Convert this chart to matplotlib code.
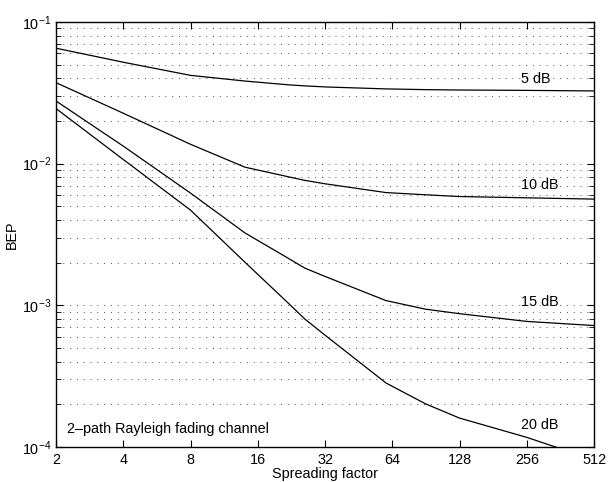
import matplotlib.pyplot as plt
from matplotlib.ticker import FixedLocator, FixedFormatter, NullLocator, LogLocator, LogFormatterMathtext

plt.rcParams["font.family"] = ["Liberation Sans", "DejaVu Sans"]
plt.rcParams["mathtext.fontset"] = "custom"
plt.rcParams["mathtext.rm"] = "Liberation Sans"
plt.rcParams["mathtext.it"] = "Liberation Sans:italic"
plt.rcParams["mathtext.bf"] = "Liberation Sans:bold"

# spreading factor grid shared by all curves
SF = [2, 4, 8, 14, 22, 26, 32, 60, 90, 128, 256, 512]

BEP_5DB = [0.0653, 0.052, 0.042, 0.0383, 0.036, 0.0354, 0.0348, 0.0337, 0.0333, 0.0331, 0.0329, 0.0326]
BEP_10DB = [0.0373, 0.0227, 0.0137, 0.00945, 0.00807, 0.00762, 0.00721, 0.00625, 0.00603, 0.00586, 0.00574, 0.00562]
BEP_15DB = [0.0277, 0.0133, 0.0062, 0.00325, 0.00214, 0.00183, 0.0016, 0.00108, 0.00094, 0.000873, 0.00077, 0.00072]
BEP_20DB = [0.0245, 0.0107, 0.0047, 0.00202, 0.00103, 0.0008, 0.000616, 0.000283, 0.000202, 0.00016, 0.000117, 0.000081]

CURVES = [
    (BEP_5DB, "5 dB", 0.0396),
    (BEP_10DB, "10 dB", 0.0071),
    (BEP_15DB, "15 dB", 0.00106),
    (BEP_20DB, "20 dB", 0.000142),
]

XTICKS = [2, 4, 8, 16, 32, 64, 128, 256, 512]
FS = 10.4


def main() -> None:
    fig = plt.figure(figsize=(6.08, 4.82), dpi=100)
    ax = fig.add_axes([0.0921, 0.0726, 0.8849, 0.8818])

    for bep, label, ylab in CURVES:
        ax.plot(SF, bep, color="black", linewidth=0.9)
        ax.text(242, ylab, label, fontsize=FS, ha="left", va="center")

    ax.set_xscale("log", base=2)
    ax.set_yscale("log")
    ax.set_xlim(2, 512)
    ax.set_ylim(1e-4, 1e-1)

    ax.xaxis.set_major_locator(FixedLocator(XTICKS))
    ax.xaxis.set_major_formatter(FixedFormatter([str(t) for t in XTICKS]))
    ax.xaxis.set_minor_locator(NullLocator())
    ax.yaxis.set_major_locator(LogLocator(base=10, numticks=10))
    ax.yaxis.set_major_formatter(LogFormatterMathtext())
    ax.yaxis.set_minor_locator(LogLocator(base=10, subs=range(2, 10), numticks=20))

    ax.tick_params(which="both", direction="in", top=True, right=True, labelsize=FS)
    ax.tick_params(which="major", length=5, width=0.8)
    ax.tick_params(which="minor", length=3.5, width=0.6)
    ax.tick_params(axis="x", pad=4)

    # dotted horizontal grid at every decade and sub-decade
    ax.grid(True, axis="y", which="both", linestyle=(0, (1, 6)), linewidth=0.7, color="0.3")
    for spine in ax.spines.values():
        spine.set_linewidth(1.0)

    ax.text(2.25, 0.000135, "2\u2013path Rayleigh fading channel", fontsize=FS, ha="left", va="center")

    ax.set_xlabel("Spreading factor", fontsize=FS, labelpad=0)
    ax.set_ylabel("BEP", fontsize=FS, labelpad=2)

    fig.savefig("out.png", dpi=100)


if __name__ == "__main__":
    main()
